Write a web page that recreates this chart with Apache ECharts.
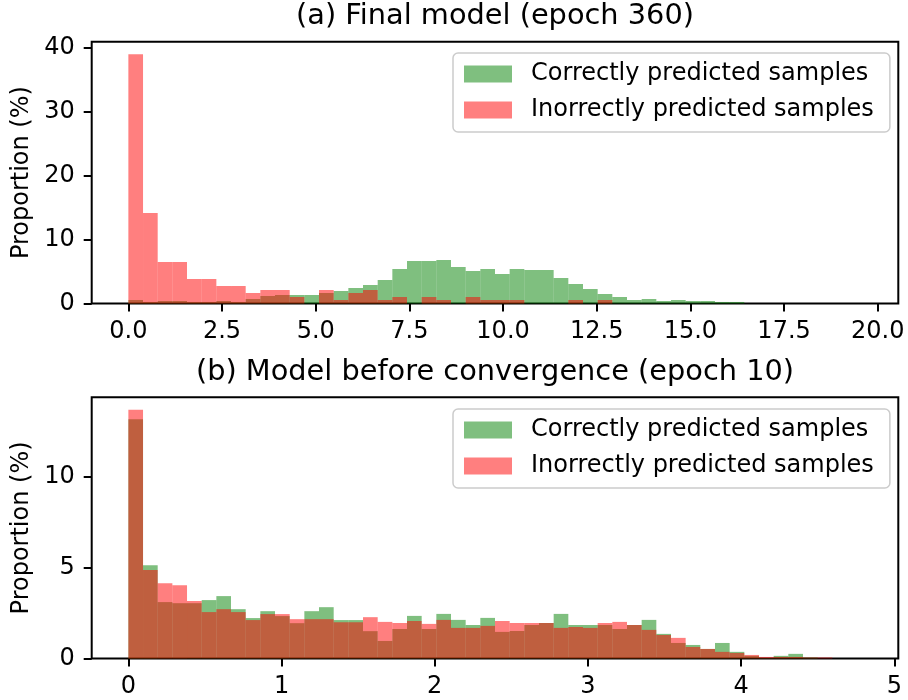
<!DOCTYPE html>
<html>
<head>
<meta charset="utf-8">
<script src="https://cdn.jsdelivr.net/npm/echarts@6/dist/echarts.min.js"></script>
<style>html,body{margin:0;padding:0;background:#fff}#c{width:908px;height:700px}</style>
</head>
<body>
<div id="c"></div>
<script>
// ---------- data ----------
const seriesNames = ['Correctly predicted samples', 'Inorrectly predicted samples'];
const titleTop = '(a) Final model (epoch 360)';
const titleBottom = '(b) Model before convergence (epoch 10)';
const yName = 'Proportion (%)';

// (a) 50 bins from 0, width 19.57/50
const topBinStart = 0;
const topBinWidth = 0.3914;
const topCorrect = [0.55,0.24,0.39,0.39,0.24,0.24,0.39,0.24,0.71,1.18,
                    1.33,1.33,1.33,1.65,1.96,2.43,2.90,3.68,5.41,6.66,
                    6.66,6.82,5.72,5.09,5.41,4.62,5.41,5.25,5.25,4.00,
                    3.06,2.27,1.49,1.02,0.55,0.71,0.39,0.55,0.39,0.39,
                    0.24,0.24,0,0,0,0,0,0,0,0];
const topIncorrect = [39.07,14.18,6.50,6.50,3.84,3.84,2.74,2.74,1.65,2.12,
                      2.12,1.02,0,2.12,0.55,1.65,2.12,0.55,1.02,0,
                      1.02,0.55,0,1.02,0.55,0.55,0.55,0,0,0,
                      0.55,0,0.55,0,0,0,0,0,0,0,
                      0,0,0,0,0,0,0,0,0,0];
const topXTicks = [0, 2.5, 5, 7.5, 10, 12.5, 15, 17.5, 20];
const topYTicks = [0, 10, 20, 30, 40];

// (b) 50 bins from 0, width 4.787/50
const bottomBinStart = 0;
const bottomBinWidth = 0.09574;
const bottomCorrect = [13.17,5.13,3.10,3.04,3.04,3.21,3.43,2.71,2.22,2.60,
                       2.33,1.94,2.60,2.82,2.11,2.11,1.50,0.96,1.62,2.34,
                       1.62,2.45,2.12,1.84,2.23,1.46,1.51,1.84,1.95,2.45,
                       1.84,1.84,1.84,1.62,1.84,2.12,1.35,0.85,0.74,0.52,
                       0.85,0.36,0.14,0.03,0.14,0.25,0.05,0,0,0];
const bottomIncorrect = [13.69,4.86,4.14,4.03,3.16,2.55,2.71,2.55,2.11,2.44,
                         2.44,2.16,2.16,2.16,1.99,1.99,2.27,2.01,1.95,2.06,
                         1.90,2.12,1.68,1.68,1.79,2.06,1.95,1.95,1.95,1.68,
                         1.73,1.68,1.95,2.01,1.84,1.57,1.29,1.13,0.63,0.52,
                         0.36,0.30,0.19,0.08,0.08,0.08,0.05,0.05,0,0];
const bottomXTicks = [0, 1, 2, 3, 4, 5];
const bottomYTicks = [0, 5, 10];

// ---------- build ----------
const FONT = 'DejaVu Sans';
const GREEN = 'rgba(0,128,0,0.5)';
const RED = 'rgba(255,0,0,0.5)';

function bins(values, start, width) {
  return values.map((v, i) => [start + i * width, start + (i + 1) * width, v]);
}
function histSeries(name, values, start, width, idx, color) {
  return {
    type: 'custom', name: name, xAxisIndex: idx, yAxisIndex: idx,
    itemStyle: { color: color },
    encode: { x: [0, 1], y: 2 },
    data: bins(values, start, width),
    renderItem: function (params, api) {
      const h = api.value(2);
      if (!h) return null;
      const p0 = api.coord([api.value(0), h]);
      const p1 = api.coord([api.value(1), 0]);
      return { type: 'rect', shape: { x: p0[0], y: p0[1], width: p1[0] - p0[0], height: p1[1] - p0[1] },
               style: { fill: color } };
    }
  };
}
function xAxis(idx, min, max, ticks, fmt) {
  return {
    type: 'value', gridIndex: idx, min: min, max: max, position: 'bottom',
    axisLine: { show: false, onZero: false }, splitLine: { show: false },
    axisTick: { show: true, customValues: ticks, length: 8, lineStyle: { color: '#000', width: 2 } },
    axisLabel: { customValues: ticks, formatter: fmt, fontSize: 24, fontFamily: FONT, color: '#000', margin: 16 }
  };
}
function yAxis(idx, max, ticks) {
  return {
    type: 'value', gridIndex: idx, min: 0, max: max, position: 'left',
    axisLine: { show: false, onZero: false }, splitLine: { show: false },
    axisTick: { show: true, customValues: ticks, length: 8, lineStyle: { color: '#000', width: 2 } },
    axisLabel: { customValues: ticks, fontSize: 24, fontFamily: FONT, color: '#000', margin: 17 }
  };
}
function legend(top) {
  return {
    data: seriesNames, orient: 'vertical', left: 453, top: top,
    icon: 'rect', itemWidth: 48, itemHeight: 17, itemGap: 12,
    padding: [9, 16, 10, 11], borderColor: '#cccccc', borderWidth: 1.5, borderRadius: 5,
    backgroundColor: 'rgba(255,255,255,0.8)', selectedMode: false,
    textStyle: { fontSize: 24, fontFamily: FONT, color: '#000', lineHeight: 24, padding: [0, 0, 0, 14] }
  };
}

const topR = topBinWidth * 50, botR = bottomBinWidth * 50;
const topYMax = Math.max(...topIncorrect, ...topCorrect) * 1.05;
const botYMax = Math.max(...bottomIncorrect, ...bottomCorrect) * 1.05;

const chart = echarts.init(document.getElementById('c'), null, { renderer: 'canvas' });
chart.setOption({
  animation: false,
  backgroundColor: '#fff',
  title: [
    { text: titleTop, left: 495, top: 2, textAlign: 'center', padding: 0,
      textStyle: { fontSize: 28.8, fontWeight: 'normal', fontFamily: FONT, color: '#000' } },
    { text: titleBottom, left: 495, top: 358, textAlign: 'center', padding: 0,
      textStyle: { fontSize: 28.8, fontWeight: 'normal', fontFamily: FONT, color: '#000' } }
  ],
  legend: [legend(53), legend(409)],
  grid: [
    { left: 91.7, top: 41.7, width: 806.6, height: 261.8, show: true, borderColor: '#000', borderWidth: 2,
      backgroundColor: 'transparent', containLabel: false, outerBoundsMode: 'none' },
    { left: 91.7, top: 397.3, width: 806.6, height: 261.1, show: true, borderColor: '#000', borderWidth: 2,
      backgroundColor: 'transparent', containLabel: false, outerBoundsMode: 'none' }
  ],
  xAxis: [
    xAxis(0, -0.05 * topR, 1.05 * topR, topXTicks, v => v.toFixed(1)),
    xAxis(1, -0.05 * botR, 1.05 * botR, bottomXTicks, v => String(Math.round(v)))
  ],
  yAxis: [yAxis(0, topYMax, topYTicks), yAxis(1, botYMax, bottomYTicks)],
  graphic: [
    { type: 'text', x: 22, y: 172.6, rotation: Math.PI / 2,
      style: { text: yName, fontSize: 24, fontFamily: FONT, fill: '#000', align: 'center', verticalAlign: 'middle' } },
    { type: 'text', x: 22, y: 527.9, rotation: Math.PI / 2,
      style: { text: yName, fontSize: 24, fontFamily: FONT, fill: '#000', align: 'center', verticalAlign: 'middle' } }
  ],
  series: [
    histSeries(seriesNames[0], topCorrect, topBinStart, topBinWidth, 0, GREEN),
    histSeries(seriesNames[1], topIncorrect, topBinStart, topBinWidth, 0, RED),
    histSeries(seriesNames[0], bottomCorrect, bottomBinStart, bottomBinWidth, 1, GREEN),
    histSeries(seriesNames[1], bottomIncorrect, bottomBinStart, bottomBinWidth, 1, RED)
  ]
});
</script>
</body>
</html>
